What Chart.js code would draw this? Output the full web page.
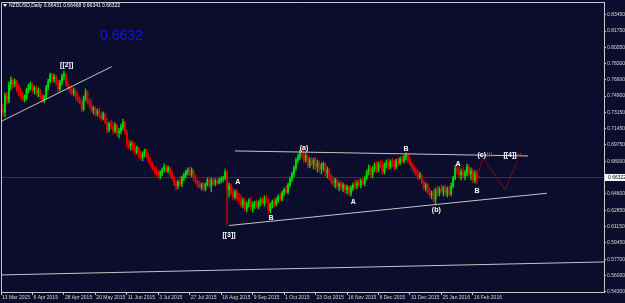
<!DOCTYPE html>
<html>
<head>
<meta charset="utf-8">
<script src="https://cdn.jsdelivr.net/npm/chart.js@4.4.0/dist/chart.umd.min.js"></script>
<style>
  html, body { margin: 0; padding: 0; background: #0c0c2c; }
  #wrap { width: 625px; height: 303px; position: relative; }
</style>
</head>
<body>
<div id="wrap"><canvas id="myChart"></canvas></div>
<script>
// NZDUSD daily bars, 13 Mar 2015 .. 19 Feb 2016
const opens = [
  .7407, .7344, .7323, .7491, .7449, .7607, .7660, .7618, .7639, .7565,
  .7523, .7491, .7460, .7481, .7555, .7597, .7618, .7555, .7576, .7523,
  .7544, .7481, .7449, .7481, .7586, .7649, .7713, .7670, .7692, .7628,
  .7565, .7639, .7702, .7723, .7618, .7576, .7555, .7523, .7544, .7481,
  .7449, .7428, .7354, .7470, .7533, .7428, .7396, .7344, .7365, .7312,
  .7333, .7291, .7259, .7301, .7217, .7133, .7196, .7175, .7122, .7185,
  .7101, .7122, .7164, .7217, .7112, .6985, .6964, .6996, .6943, .6901,
  .6943, .6869, .6848, .6880, .6912, .6859, .6806, .6775, .6733, .6711,
  .6680, .6659, .6680, .6711, .6743, .6701, .6733, .6659, .6627, .6564,
  .6543, .6585, .6564, .6627, .6659, .6690, .6711, .6669, .6701, .6617,
  .6585, .6553, .6532, .6553, .6511, .6564, .6606, .6543, .6606, .6574,
  .6596, .6574, .6606, .6617, .6627, .6690, .6501, .6543, .6469, .6427,
  .6480, .6417, .6385, .6343, .6385, .6301, .6353, .6385, .6322, .6343,
  .6364, .6332, .6364, .6395, .6364, .6406, .6385, .6290, .6343, .6374,
  .6353, .6395, .6427, .6406, .6469, .6501, .6480, .6553, .6617, .6669,
  .6733, .6817, .6848, .6901, .6869, .6817, .6859, .6764, .6806, .6775,
  .6817, .6743, .6785, .6722, .6754, .6775, .6680, .6711, .6638, .6596,
  .6574, .6606, .6543, .6564, .6522, .6553, .6501, .6532, .6469, .6522,
  .6553, .6543, .6574, .6553, .6596, .6574, .6627, .6690, .6733, .6659,
  .6722, .6764, .6711, .6775, .6754, .6690, .6764, .6796, .6743, .6796,
  .6775, .6743, .6806, .6785, .6827, .6806, .6848, .6869, .6817, .6775,
  .6733, .6701, .6669, .6638, .6659, .6585, .6522, .6553, .6480, .6448,
  .6469, .6406, .6501, .6469, .6511, .6490, .6522, .6469, .6501, .6459,
  .6543, .6627, .6733, .6701, .6659, .6690, .6648, .6680, .6743, .6669,
  .6701, .6606, .6669, .66431
];
const highs = [
  .7428, .7407, .7523, .7533, .7639, .7692, .7681, .7670, .7660, .7607,
  .7576, .7533, .7502, .7576, .7618, .7639, .7628, .7597, .7597, .7576,
  .7565, .7512, .7502, .7607, .7670, .7734, .7734, .7723, .7713, .7660,
  .7660, .7723, .7755, .7734, .7649, .7607, .7586, .7576, .7555, .7523,
  .7481, .7449, .7491, .7565, .7544, .7460, .7449, .7386, .7375, .7354,
  .7365, .7323, .7323, .7312, .7259, .7217, .7238, .7217, .7207, .7196,
  .7154, .7196, .7249, .7228, .7133, .7028, .7017, .7017, .6996, .6964,
  .6954, .6912, .6901, .6933, .6933, .6891, .6838, .6796, .6754, .6743,
  .6711, .6701, .6733, .6775, .6764, .6754, .6743, .6701, .6648, .6596,
  .6606, .6638, .6648, .6680, .6711, .6733, .6743, .6733, .6711, .6659,
  .6606, .6596, .6574, .6585, .6574, .6627, .6638, .6627, .6627, .6617,
  .6617, .6627, .6638, .6648, .6722, .6701, .6574, .6564, .6522, .6501,
  .6511, .6469, .6448, .6417, .6406, .6374, .6406, .6417, .6374, .6385,
  .6395, .6385, .6417, .6427, .6438, .6448, .6406, .6364, .6395, .6406,
  .6417, .6448, .6469, .6490, .6522, .6543, .6574, .6638, .6690, .6754,
  .6838, .6880, .6922, .6933, .6922, .6891, .6869, .6838, .6848, .6838,
  .6848, .6817, .6806, .6785, .6796, .6785, .6743, .6733, .6669, .6638,
  .6627, .6617, .6585, .6596, .6574, .6564, .6553, .6543, .6543, .6574,
  .6606, .6596, .6617, .6617, .6627, .6648, .6711, .6764, .6754, .6743,
  .6785, .6806, .6796, .6817, .6806, .6785, .6817, .6827, .6817, .6838,
  .6817, .6827, .6838, .6848, .6859, .6869, .6891, .6880, .6848, .6796,
  .6764, .6733, .6711, .6690, .6669, .6606, .6574, .6564, .6522, .6490,
  .6501, .6522, .6543, .6532, .6553, .6543, .6553, .6532, .6543, .6574,
  .6648, .6764, .6775, .6754, .6722, .6733, .6711, .6775, .6764, .6733,
  .6722, .6701, .6711, .66468
];
const lows = [
  .7301, .7280, .7270, .7407, .7417, .7555, .7576, .7586, .7533, .7491,
  .7470, .7439, .7428, .7449, .7523, .7555, .7533, .7512, .7502, .7481,
  .7460, .7428, .7417, .7460, .7555, .7628, .7639, .7639, .7607, .7533,
  .7544, .7607, .7660, .7597, .7555, .7523, .7502, .7491, .7449, .7428,
  .7407, .7323, .7333, .7439, .7407, .7365, .7323, .7301, .7280, .7280,
  .7259, .7228, .7238, .7196, .7101, .7112, .7143, .7091, .7101, .7070,
  .7049, .7091, .7133, .7091, .6943, .6933, .6922, .6912, .6869, .6880,
  .6838, .6817, .6806, .6848, .6838, .6785, .6754, .6711, .6669, .6648,
  .6627, .6617, .6648, .6690, .6680, .6680, .6638, .6606, .6543, .6501,
  .6511, .6543, .6532, .6596, .6627, .6659, .6648, .6638, .6596, .6564,
  .6522, .6522, .6501, .6490, .6490, .6543, .6522, .6480, .6553, .6543,
  .6553, .6564, .6574, .6585, .6606, .6132, .6427, .6448, .6395, .6406,
  .6385, .6353, .6322, .6311, .6280, .6269, .6322, .6290, .6269, .6301,
  .6311, .6301, .6332, .6343, .6332, .6364, .6258, .6258, .6311, .6322,
  .6332, .6364, .6385, .6385, .6438, .6459, .6459, .6532, .6585, .6638,
  .6701, .6785, .6817, .6838, .6785, .6796, .6733, .6733, .6754, .6722,
  .6711, .6690, .6690, .6669, .6701, .6648, .6627, .6606, .6564, .6543,
  .6522, .6511, .6490, .6501, .6480, .6469, .6459, .6438, .6438, .6490,
  .6511, .6511, .6532, .6522, .6553, .6543, .6606, .6659, .6627, .6627,
  .6690, .6680, .6690, .6733, .6669, .6669, .6733, .6711, .6722, .6743,
  .6711, .6722, .6754, .6764, .6785, .6785, .6817, .6785, .6754, .6711,
  .6680, .6648, .6606, .6617, .6564, .6501, .6490, .6459, .6427, .6406,
  .6374, .6343, .6438, .6438, .6469, .6438, .6448, .6427, .6438, .6438,
  .6522, .6606, .6669, .6627, .6606, .6627, .6606, .6648, .6648, .6606,
  .6574, .6574, .6564, .66301
];
const closes = [
  .7344, .7323, .7491, .7449, .7607, .7660, .7618, .7639, .7565, .7523,
  .7491, .7460, .7481, .7555, .7597, .7618, .7555, .7576, .7523, .7544,
  .7481, .7449, .7481, .7586, .7649, .7713, .7670, .7692, .7628, .7565,
  .7639, .7702, .7723, .7618, .7576, .7555, .7523, .7544, .7481, .7449,
  .7428, .7354, .7470, .7533, .7428, .7396, .7344, .7365, .7312, .7333,
  .7291, .7259, .7301, .7217, .7133, .7196, .7175, .7122, .7185, .7101,
  .7122, .7164, .7217, .7112, .6985, .6964, .6996, .6943, .6901, .6943,
  .6869, .6848, .6880, .6912, .6859, .6806, .6775, .6733, .6711, .6680,
  .6659, .6680, .6711, .6743, .6701, .6733, .6659, .6627, .6564, .6543,
  .6585, .6564, .6627, .6659, .6690, .6711, .6669, .6701, .6617, .6585,
  .6553, .6532, .6553, .6511, .6564, .6606, .6543, .6606, .6574, .6596,
  .6574, .6606, .6617, .6627, .6690, .6501, .6543, .6469, .6427, .6480,
  .6417, .6385, .6343, .6385, .6301, .6353, .6385, .6322, .6343, .6364,
  .6332, .6364, .6395, .6364, .6406, .6385, .6290, .6343, .6374, .6353,
  .6395, .6427, .6406, .6469, .6501, .6480, .6553, .6617, .6669, .6733,
  .6817, .6848, .6901, .6869, .6817, .6859, .6764, .6806, .6775, .6817,
  .6743, .6785, .6722, .6754, .6775, .6680, .6711, .6638, .6596, .6574,
  .6606, .6543, .6564, .6522, .6553, .6501, .6532, .6469, .6522, .6553,
  .6543, .6574, .6553, .6596, .6574, .6627, .6690, .6733, .6659, .6722,
  .6764, .6711, .6775, .6754, .6690, .6764, .6796, .6743, .6796, .6775,
  .6743, .6806, .6785, .6827, .6806, .6848, .6869, .6817, .6775, .6733,
  .6701, .6669, .6638, .6659, .6585, .6522, .6553, .6480, .6448, .6469,
  .6406, .6501, .6469, .6511, .6490, .6522, .6469, .6501, .6459, .6543,
  .6627, .6733, .6701, .6659, .6690, .6648, .6680, .6743, .6669, .6701,
  .6606, .6669, .66431, .66322
];

// time axis labels (one every 16 bars)
const dateLabels = ["13 Mar 2015", "6 Apr 2015", "28 Apr 2015", "20 May 2015", "11 Jun 2015",
  "3 Jul 2015", "27 Jul 2015", "18 Aug 2015", "9 Sep 2015", "1 Oct 2015", "23 Oct 2015",
  "16 Nov 2015", "8 Dec 2015", "31 Dec 2015", "25 Jan 2016", "16 Feb 2016"];
const dateTickBars = [0, 16, 32, 48, 64, 80, 96, 112, 128, 144, 160, 176, 192, 208, 224, 240];

// price axis labels
const priceTicks = [0.8345, 0.8175, 0.8005, 0.7830, 0.7660, 0.7490, 0.7315, 0.7145, 0.6975,
  0.6800, 0.6460, 0.6285, 0.6115, 0.5945, 0.5770, 0.5600, 0.5430];
const lastPrice = 0.66322;

// trend lines: [bar, price] pairs
const trendLines = [
  [[0, 0.7223], [56.3, 0.7800]],
  [[119.0, 0.6912], [268.1, 0.6859]],
  [[116.0, 0.6126], [277.7, 0.6466]],
  [[0, 0.5605], [306.7, 0.5742]]
];
// projected path (dark red)
const projBars = [242.6, 245.2, 256.4, 262.5];
const projPrices = [0.6680, 0.6838, 0.6501, 0.6796];

// wave labels
const waveText = ["[[2]]", "[[3]]", "A", "B", "(a)", "A", "B", "(b)", "A", "B", "(c)", "[[4]]"];
const waveSuffix = ["", "", "", "", "", "", "", "", "", "", "iii", "v"];
const waveBars = [33.4, 116.0, 120.4, 137.3, 154.1, 179.2, 206.0, 221.4, 232.5, 242.1, 244.5, 258.9];
const wavePrices = [0.7818, 0.6026, 0.6580, 0.6206, 0.6943, 0.6371, 0.6927, 0.6290, 0.6775, 0.6490, 0.6873, 0.6873];

const headerText = "NZDUSD,Daily 0.66431 0.66468 0.66341 0.66322";
const bigQuote = "0.6632";

const bgColor = "#0c0c2c";
const bullColor = "#00dc00";
const bearColor = "#e40000";
const axisText = "#d8d8d8";

const barColors = closes.map((c, i) => (c >= opens[i] ? bullColor : bearColor));

const datasets = [];

// trend lines on top
trendLines.forEach((seg) => {
  datasets.push({
    type: "line",
    data: seg.map((p) => ({ x: p[0], y: p[1] })),
    borderColor: "#c4c4c4",
    borderWidth: 1,
    pointRadius: 0,
    order: 0,
  });
});

datasets.push({
  type: "line",
  data: projBars.map((b, i) => ({ x: b, y: projPrices[i] })),
  borderColor: "#9a1414",
  borderWidth: 1,
  borderDash: [2, 1],
  pointRadius: 0,
  order: 0,
});

// candle bodies
datasets.push({
  type: "bar",
  data: closes.map((c, i) => ({ x: i, y: [opens[i], c] })),
  backgroundColor: barColors,
  barThickness: 1.2,
  minBarLength: 1,
  grouped: false,
  order: 1,
});

// candle wicks
datasets.push({
  type: "bar",
  data: highs.map((h, i) => ({ x: i, y: [lows[i], h] })),
  backgroundColor: barColors,
  barThickness: 0.7,
  grouped: false,
  order: 2,
});

// bid line
datasets.push({
  type: "line",
  data: [{ x: 0, y: lastPrice }, { x: 306.7, y: lastPrice }],
  borderColor: "#3a3444",
  borderWidth: 1,
  pointRadius: 0,
  order: 3,
});

const overlay = {
  id: "overlay",
  beforeDraw(chart) {
    const c = chart.ctx;
    c.save();
    c.fillStyle = bgColor;
    c.fillRect(0, 0, chart.width, chart.height);
    c.restore();
  },
  afterDatasetsDraw(chart) {
    const c = chart.ctx;
    const xs = chart.scales.x;
    const ys = chart.scales.y;
    c.save();
    c.font = 'bold 7px "Liberation Sans"';
    c.textBaseline = "middle";
    waveText.forEach((t, k) => {
      const px = xs.getPixelForValue(waveBars[k]);
      const py = ys.getPixelForValue(wavePrices[k]);
      const w = c.measureText(t).width;
      c.fillStyle = "#ffffff";
      c.textAlign = "center";
      c.fillText(t, px, py);
      if (waveSuffix[k]) {
        c.textAlign = "left";
        c.fillStyle = "#c8282e";
        c.fillText(waveSuffix[k], px + w / 2 + 0.5, py);
      }
    });
    c.restore();
  },
  afterDraw(chart) {
    const c = chart.ctx;
    const a = chart.chartArea;
    c.save();
    // frame
    c.strokeStyle = "#c8c8c8";
    c.lineWidth = 1;
    c.beginPath();
    c.moveTo(a.left + 0.5, a.bottom);
    c.lineTo(a.left + 0.5, a.top + 0.5);
    c.lineTo(a.right, a.top + 0.5);
    c.stroke();

    // header
    c.fillStyle = "#ffffff";
    c.beginPath();
    c.moveTo(3, 4);
    c.lineTo(7, 4);
    c.lineTo(5, 7);
    c.closePath();
    c.fill();
    c.font = '5px "Liberation Sans"';
    c.textBaseline = "middle";
    c.textAlign = "left";
    c.fillText(headerText, 9, 5.5);

    // big quote
    c.fillStyle = "#1414f0";
    c.font = '14px "Liberation Sans"';
    c.textBaseline = "alphabetic";
    c.fillText(bigQuote, 100, 40);

    // current price tag
    const py = chart.scales.y.getPixelForValue(lastPrice);
    c.fillStyle = "#ffffff";
    c.fillRect(a.right + 1, py - 3.5, 21, 7);
    c.fillStyle = "#000000";
    c.font = '5px "Liberation Sans"';
    c.textBaseline = "middle";
    c.fillText(lastPrice.toFixed(5), a.right + 4, py);
    c.restore();
  },
};

new Chart(document.getElementById("myChart"), {
  type: "bar",
  data: { datasets: datasets },
  plugins: [overlay],
  options: {
    responsive: true,
    maintainAspectRatio: false,
    animation: false,
    layout: { padding: { top: 2, left: 1, right: 0, bottom: 0 } },
    plugins: { legend: { display: false }, tooltip: { enabled: false } },
    scales: {
      x: {
        type: "linear",
        min: 0,
        max: 306.7,
        offset: false,
        afterBuildTicks: (s) => {
          s.ticks = dateTickBars.map((v) => ({ value: v }));
        },
        afterFit: (s) => {
          s.height = 11;
          s.paddingLeft = 0;
          s.paddingRight = 0;
        },
        ticks: {
          autoSkip: false,
          maxRotation: 0,
          align: "start",
          labelOffset: 1,
          padding: 0,
          color: axisText,
          font: { size: 5, family: "Liberation Sans" },
          callback: (v, i) => dateLabels[i],
        },
        grid: { drawOnChartArea: false, tickLength: 3, color: "#c8c8c8", offset: false },
        border: { color: "#c8c8c8" },
      },
      y: {
        position: "right",
        min: 0.5425,
        max: 0.8482,
        afterBuildTicks: (s) => {
          s.ticks = priceTicks.map((v) => ({ value: v }));
        },
        afterFit: (s) => {
          s.width = 21;
          s.paddingTop = 0;
          s.paddingBottom = 0;
        },
        ticks: {
          padding: 1,
          color: axisText,
          font: { size: 5, family: "Liberation Sans" },
          callback: (v) => v.toFixed(5),
        },
        grid: { drawOnChartArea: false, tickLength: 2, color: "#c8c8c8" },
        border: { color: "#c8c8c8" },
      },
    },
  },
});
</script>
</body>
</html>
